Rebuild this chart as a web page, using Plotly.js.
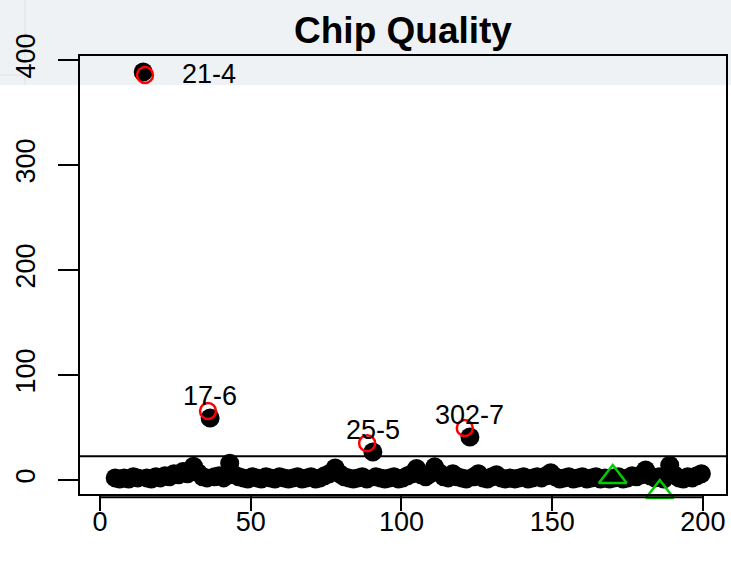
<!DOCTYPE html>
<html>
<head>
<meta charset="utf-8">
<script src="https://cdn.plot.ly/plotly-3.0.1.min.js"></script>
<style>html,body{margin:0;padding:0;background:#fff;}#chart{width:731px;height:567px;}</style>
</head>
<body>
<div id="chart"></div>
<script>
// Black points: all chips
var chipX = [5,6.5,8,9.5,11,12.5,14.3,15.5,17,18.5,20,21.5,23,24.5,26,27.5,29,31,32.5,34,35.5,36.5,38,39.5,41,43,44.5,46,47.5,49,50.5,52,53.5,55,56.5,58,59.5,61,62.5,64,65.5,67,68.5,70,71.5,73,74.5,76,78,79.5,81,82.5,84,85.5,87,88.5,90.5,91.5,93,94.5,96,97.5,99,100.5,102,103.5,105,106.5,108,109.5,111,112.5,114,115.5,117,118.5,120,121.5,122.7,124,125.5,127,128.5,130,131.5,133,134.5,136,137.5,139,140.5,142,143.5,145,146.5,148,149.5,151,152.5,154,155.5,157,158.5,160,161.5,163,164.5,166,167.5,169,170.5,172,173.5,175,176.5,178,179.5,181,182.5,184,185.5,187,189,190.5,192,193.5,195,196.5,198,199.5];
var chipY = [2,1,2,1,3,2,388.6,2,1,3,2,4,3,6,5,8,6,13,7,3,2,59,3,4,2,16,5,3,2,1,3,2,1,3,2,1,3,2,1,2,3,1,2,3,1,2,4,6,11.5,6,3,2,1,2,3,1,26.7,3,2,1,2,3,1,2,4,6,11,5,3,6,12.5,7,3,2,6,3,2,1,41,3,6,2,1,3,5,2,1,2,1,2,3,1,2,3,2,4,7,3,1,2,3,1,2,3,1,2,3,1,2,1,2,3,1,2,4,3,5,9.5,4,2,3,1,14,5,2,1,3,2,4,6];
// Red open circles
var flagX = [14.9, 35.8, 88.6, 121.0];
var flagY = [385.7, 65.7, 35.0, 49.5];
// Green triangles
var triX = [170.1, 185.7];
var triY = [2.9, -11.4];
// Labels (at the black outlier points)
var labX = [14.3, 36.5, 90.5, 122.7];
var labY = [388.6, 59, 26.7, 41];
var labText = ["21-4", "17-6", "25-5", "302-7"];
var refLine = 22.5;
var xTicks = [0, 50, 100, 150, 200];
var yTicks = [0, 100, 200, 300, 400];

var FONT = "Liberation Sans, Arial, Helvetica, sans-serif";

var traces = [
  {x: chipX, y: chipY, mode: 'markers', type: 'scatter',
   marker: {color: '#000', size: 19, line: {width: 0}}, cliponaxis: false, hoverinfo: 'skip'},
  {x: flagX, y: flagY, mode: 'markers', type: 'scatter',
   marker: {symbol: 'circle-open', color: '#ff0000', size: 16, line: {width: 2.5, color: '#ff0000'}}, cliponaxis: false},
  {x: triX, y: triY, mode: 'markers', type: 'scatter',
   marker: {symbol: 'triangle-up-open', color: '#00cd00', size: 24, line: {width: 2.5, color: '#00cd00'}}, cliponaxis: false}
];

var annotations = labText.map(function(t, i) {
  if (i === 0) {
    return {x: labX[i], y: labY[i], xref: 'x', yref: 'y', text: t, showarrow: false,
      xanchor: 'left', yanchor: 'middle', xshift: 37, yshift: -2,
      font: {family: FONT, size: 27, color: '#000'}};
  }
  return {x: labX[i], y: labY[i], xref: 'x', yref: 'y', text: t, showarrow: false,
    xanchor: 'center', yanchor: 'middle', xshift: 0, yshift: 22,
    font: {family: FONT, size: 27, color: '#000'}};
});

var layout = {
  width: 731, height: 567,
  margin: {l: 79, r: 4, t: 55, b: 72, pad: 0},
  paper_bgcolor: '#ffffff',
  plot_bgcolor: 'rgba(0,0,0,0)',
  showlegend: false,
  title: {text: 'Chip Quality', x: 0.5, xref: 'paper', y: 1 - 30/567, yref: 'container',
    xanchor: 'center', yanchor: 'middle',
    font: {family: FONT, size: 37, color: '#000', weight: 'bold'}},
  xaxis: {range: [-7, 208], tickvals: xTicks, ticktext: xTicks.map(String),
    ticks: 'outside', ticklen: 15, tickwidth: 2, tickcolor: '#000',
    showgrid: false, zeroline: false, showline: false,
    tickfont: {family: FONT, size: 27, color: '#000'}, ticklabelstandoff: -12},
  yaxis: {range: [-14.3, 404.8], tickvals: yTicks, ticktext: yTicks.map(String),
    ticks: 'outside', ticklen: 20, tickwidth: 2, tickcolor: '#000', tickangle: -90,
    showgrid: false, zeroline: false, showline: false,
    tickfont: {family: FONT, size: 27, color: '#000'}, ticklabelstandoff: 12},
  annotations: annotations,
  shapes: [
    {type: 'rect', xref: 'paper', yref: 'paper', x0: -0.13, x1: 1.01, y0: (495-85)/440, y1: 1.13,
      fillcolor: '#eef2f5', line: {width: 0}, layer: 'below'},
    {type: 'line', xref: 'paper', yref: 'paper', x0: (25-79)/648, x1: (25-79)/648, y0: (495-85)/440, y1: 1.13,
      line: {color: '#dde2e6', width: 1}, layer: 'below'},
    {type: 'line', xref: 'paper', yref: 'paper', x0: -0.13, x1: (25-79)/648, y0: (495-75)/440, y1: (495-75)/440,
      line: {color: '#dde2e6', width: 1}, layer: 'below'},
    {type: 'rect', xref: 'paper', yref: 'paper', x0: 0, x1: 1, y0: 0, y1: 1,
      line: {color: '#000', width: 2}, fillcolor: 'rgba(0,0,0,0)', layer: 'above'},
    {type: 'line', xref: 'paper', yref: 'y', x0: 0, x1: 1, y0: refLine, y1: refLine,
      line: {color: '#000', width: 2}, layer: 'above'},
    {type: 'line', xref: 'x', yref: 'paper', x0: xTicks[0], x1: xTicks[xTicks.length-1], y0: -0.005, y1: -0.005,
      line: {color: '#000', width: 2}, layer: 'above'}
  ]
};

Plotly.newPlot('chart', traces, layout, {displayModeBar: false, staticPlot: true});
</script>
</body>
</html>
